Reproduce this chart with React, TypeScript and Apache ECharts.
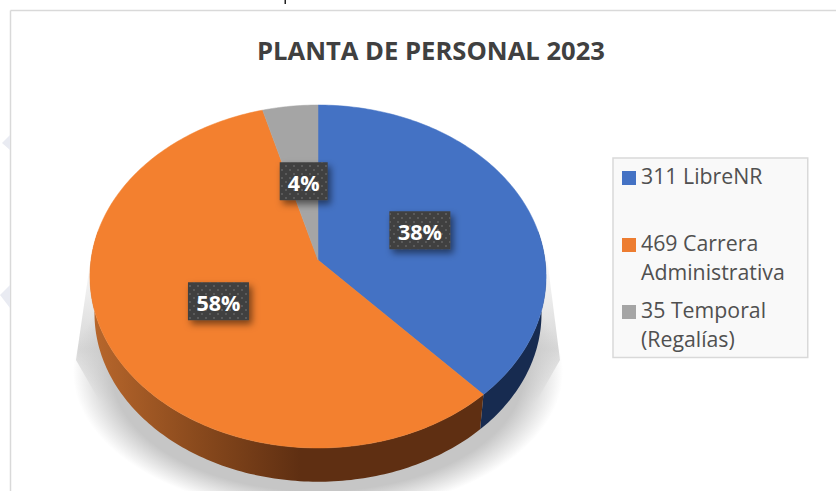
import React, { useEffect, useRef } from "react";
import * as echarts from "echarts";

const chartTitle = "PLANTA DE PERSONAL 2023";
const categories = ["311 LibreNR", "469 Carrera Administrativa", "35 Temporal (Regalías)"];
const legendLabels = ["311 LibreNR\n ", "469 Carrera\nAdministrativa", "35 Temporal\n(Regalías)"];
const values = [311, 469, 35];
const topColors = ["#4472c4", "#f3802f", "#a5a5a5"];
const legendColors = ["#4472c4", "#ed7d31", "#a5a5a5"];

const FONT = '"Open Sans", sans-serif';
const total = values.reduce((a, b) => a + b, 0);

// perspective projection of the pie's disc
const CX = 318, CY = 260, RX = 227, RY = 169.9, K = 0.0962;
const project = (deg: number, f = 1, scale = 1, dy = 0) => {
  const t = (deg * Math.PI) / 180;
  const d = 1 + K * f * Math.cos(t);
  return [
    CX + (scale * RX * f * Math.sin(t)) / d,
    CY + dy - (scale * RY * f * Math.cos(t)) / d,
  ];
};
const arc = (a: number, b: number, scale = 1, dy = 0) => {
  const pts: number[][] = [];
  const n = Math.max(2, Math.ceil(Math.abs(b - a)));
  for (let i = 0; i <= n; i++) pts.push(project(a + ((b - a) * i) / n, 1, scale, dy));
  return pts;
};

const dotTile =
  "data:image/svg+xml;utf8," +
  encodeURIComponent(
    '<svg xmlns="http://www.w3.org/2000/svg" width="8" height="8"><rect x="1" y="1" width="2" height="2" fill="#5a5a5a"/><rect x="5" y="5" width="2" height="2" fill="#5a5a5a"/></svg>'
  );

const sideFill = (i: number): any =>
  i === 0
    ? "#172b50"
    : new echarts.graphic.LinearGradient(
        92, 0, 300, 0,
        [
          { offset: 0, color: "#b8672c" },
          { offset: 0.5, color: "#8a4a1d" },
          { offset: 1, color: "#5f2f12" },
        ],
        true
      );

const makeRender = (index: number) => (_params: any, api: any) => {
  const before = values.slice(0, index).reduce((a, b) => a + b, 0);
  const start = (before / total) * 360;
  const value = api.value(0) as number;
  const end = start + (value / total) * 360;
  const children: any[] = [];

  const sa = Math.max(start, 80);
  const sb = Math.min(end, 280);
  if (sb > sa) {
    children.push({
      type: "polygon",
      shape: { points: [...arc(sa, sb), ...arc(sa, sb, 0.98, 37.5).reverse()] },
      style: { fill: sideFill(index) },
    });
  }
  children.push({
    type: "polygon",
    shape: { points: [[CX, CY], ...arc(start, end)] },
    style: { fill: topColors[index], stroke: topColors[index], lineWidth: 0.5 },
  });

  const [lx, ly] = project((start + end) / 2, 0.49);
  const text = Math.round((value / total) * 100) + "%";
  const w = 22 + 13 * text.length;
  const h = 38;
  const box = { x: lx - w / 2, y: ly - h / 2, width: w, height: h };
  children.push({
    type: "rect",
    shape: box,
    style: {
      fill: "#404040",
      shadowBlur: 7,
      shadowColor: "rgba(0,0,0,0.5)",
      shadowOffsetX: 3,
      shadowOffsetY: 4,
    },
  });
  children.push({
    type: "rect",
    shape: box,
    style: { fill: { image: dotTile, repeat: "repeat", imageWidth: 8, imageHeight: 8 } },
  });
  children.push({
    type: "text",
    style: {
      x: lx,
      y: ly + 1,
      text,
      fill: "#ffffff",
      align: "center",
      verticalAlign: "middle",
      fontFamily: FONT,
      fontSize: 21.5,
      fontWeight: "bold",
    },
  });
  return { type: "group", children };
};

const shadowGray = "198,198,198";

export default function App() {
  const ref = useRef<HTMLDivElement>(null);
  useEffect(() => {
    document.body.style.margin = "0";
    const chart = echarts.init(ref.current!, undefined, { renderer: "svg" });
    chart.setOption({
      animation: false,
      backgroundColor: "#ffffff",
      title: {
        text: chartTitle,
        left: 257,
        top: 37,
        padding: 0,
        textStyle: { fontFamily: FONT, fontSize: 25.6, fontWeight: "bold", color: "#404040" },
      },
      legend: {
        orient: "vertical",
        left: 613,
        top: 158,
        padding: [3, 23, 4.5, 9],
        itemGap: 9,
        itemWidth: 14,
        itemHeight: 58,
        icon: "path://M0 0L0 0M0 10H14V24H0ZM0 58L0 58",
        selectedMode: false,
        backgroundColor: "#f9f9f9",
        borderColor: "#d9d9d9",
        borderWidth: 1.5,
        data: categories,
        formatter: (name: string) => legendLabels[categories.indexOf(name)],
        textStyle: { fontFamily: FONT, fontSize: 21.3, color: "#505050", lineHeight: 29 },
      },
      graphic: [
        { type: "line", shape: { x1: 10.5, y1: 10.5, x2: 836, y2: 10.5 }, style: { stroke: "#d9d9d9", lineWidth: 1.5 } },
        { type: "line", shape: { x1: 10.5, y1: 10.5, x2: 10.5, y2: 491 }, style: { stroke: "#d9d9d9", lineWidth: 1.5 } },
        { type: "rect", shape: { x: 284.5, y: 0, width: 1.5, height: 4 }, style: { fill: "#222222" } },
        { type: "polygon", shape: { points: [[2, 143], [10, 135], [10, 150]] }, style: { fill: "#e9ebf2" } },
        { type: "polygon", shape: { points: [[0, 295], [10, 285], [10, 308]] }, style: { fill: "#e9ebf2" } },
        {
          type: "polygon",
          shape: { points: [[92, 250], [76, 360], [100, 402], [536, 402], [560, 360], [546, 250]] },
          style: {
            fill: new echarts.graphic.LinearGradient(0, 0, 0, 1, [
              { offset: 0, color: `rgba(${shadowGray},0)` },
              { offset: 0.65, color: `rgba(${shadowGray},0.7)` },
              { offset: 1, color: `rgba(${shadowGray},0)` },
            ]),
          },
        },
        {
          type: "ellipse",
          shape: { cx: 318, cy: 372, rx: 245, ry: 142 },
          style: {
            fill: new echarts.graphic.RadialGradient(0.5, 0.5, 0.5, [
              { offset: 0, color: `rgba(${shadowGray},1)` },
              { offset: 0.84, color: `rgba(${shadowGray},1)` },
              { offset: 1, color: `rgba(${shadowGray},0)` },
            ]),
          },
        },
      ],
      series: categories.map((name, i) => ({
        type: "custom",
        name,
        coordinateSystem: "none",
        silent: true,
        itemStyle: { color: legendColors[i] },
        data: [[values[i]]],
        renderItem: makeRender(i),
      })),
    });
    return () => chart.dispose();
  }, []);
  return <div ref={ref} style={{ width: 837, height: 491 }} />;
}
